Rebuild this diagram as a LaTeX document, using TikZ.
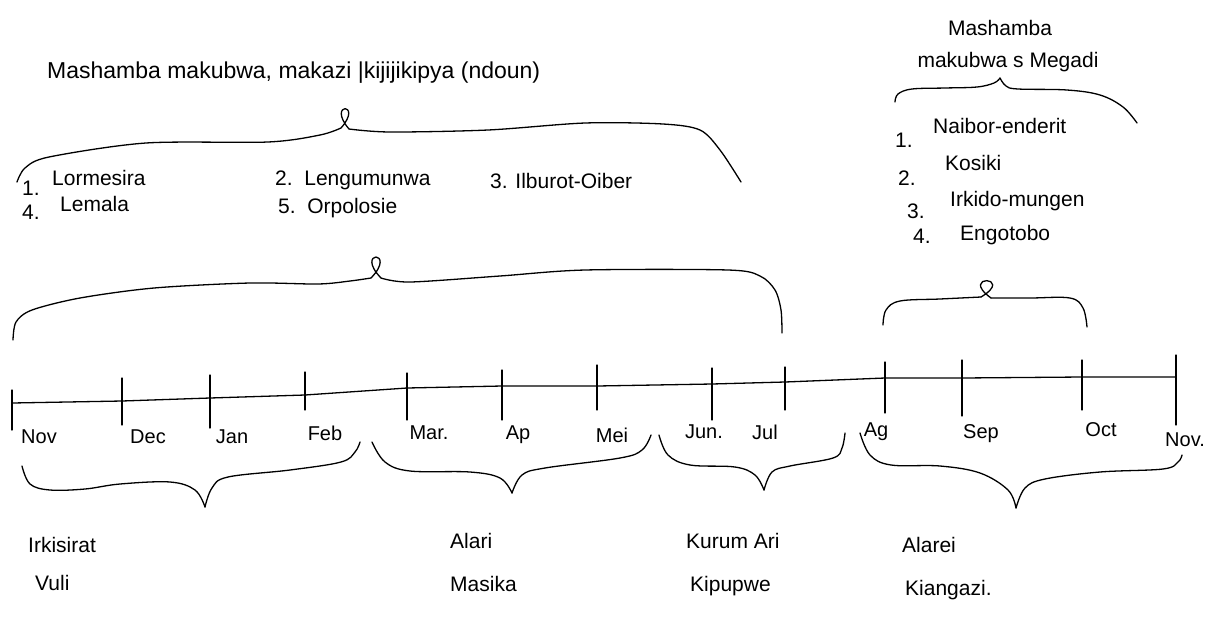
\documentclass[tikz,border=0pt]{standalone}
\usepackage{fontspec}
\setmainfont{Liberation Sans}
\begin{document}
\begin{tikzpicture}[x=1pt,y=-1pt,
  ink/.style={line width=1.3pt,line cap=round,line join=round},
  lbl/.style={inner sep=0pt,anchor=west,font=\fontsize{21}{24}\selectfont},
  mon/.style={inner sep=0pt,font=\fontsize{20}{22}\selectfont}]
\useasboundingbox (0,0) rectangle (1206,619);

% timeline points
\coordinate (t1) at (12,403);
\coordinate (t2) at (122,401);
\coordinate (t3) at (210,398);
\coordinate (t4) at (305,395);
\coordinate (t5) at (407,388);
\coordinate (t6) at (502,386);
\coordinate (t7) at (597,386);
\coordinate (t8) at (712,384);
\coordinate (t9) at (785,382);
\coordinate (t10) at (885,378);
\coordinate (t11) at (962,378);
\coordinate (t12) at (1082,377);
\coordinate (t13) at (1176,377);
\draw[ink] (t1) -- (t2) -- (t3) -- (t4) -- (t5) -- (t6) -- (t7) -- (t8) -- (t9) -- (t10) -- (t11) -- (t12) -- (t13);

% ticks
\draw[ink] (12,390) -- (12,430);
\draw[ink] (122,378) -- (122,425);
\draw[ink] (210,375) -- (210,428);
\draw[ink] (305,372) -- (305,410);
\draw[ink] (407,373) -- (407,420);
\draw[ink] (502,370) -- (502,420);
\draw[ink] (597,365) -- (597,410);
\draw[ink] (712,368) -- (712,420);
\draw[ink] (785,367) -- (785,410);
\draw[ink] (885,362) -- (885,413);
\draw[ink] (962,360) -- (962,416);
\draw[ink] (1082,360) -- (1082,410);
\draw[ink] (1176,355) -- (1176,425);

% month labels
\node[mon] (mNov) at (39,437) {Nov};
\node[mon] (mDec) at (148,437) {Dec};
\node[mon] (mJan) at (232,437) {Jan};
\node[mon] (mFeb) at (325,433) {Feb};
\node[mon] (mMar) at (429,433) {Mar.};
\node[mon] (mAp) at (518,435) {Ap};
\node[mon] (mMei) at (612,435) {Mei};
\node[mon] (mJun) at (704,432) {Jun.};
\node[mon] (mJul) at (765,432) {Jul};
\node[mon] (mAg) at (876,432) {Ag};
\node[mon] (mSep) at (981,434) {Sep};
\node[mon] (mOct) at (1101,430) {Oct};
\node[mon] (mNov2) at (1185,440) {Nov.};

% lower braces
\draw[ink] plot[smooth,tension=0.6] coordinates {(22,466) (30,484) (50,490) (85,489) (120,484) (170,482) (195,490) (205,507)};
\draw[ink] plot[smooth,tension=0.6] coordinates {(205,507) (212,488) (228,477) (290,470) (341,462) (355,452) (360,442)};
\draw[ink] plot[smooth,tension=0.6] coordinates {(372,442) (385,462) (410,471) (470,472) (500,478) (512,493)};
\draw[ink] plot[smooth,tension=0.6] coordinates {(512,493) (522,475) (545,468) (620,458) (642,450) (651,435)};
\draw[ink] plot[smooth,tension=0.6] coordinates {(659,435) (668,455) (690,465) (735,467) (755,475) (764,490)};
\draw[ink] plot[smooth,tension=0.6] coordinates {(764,490) (772,472) (790,466) (833,458) (842,448) (845,433)};
\draw[ink] plot[smooth,tension=0.6] coordinates {(860,433) (870,455) (891,465) (940,466) (980,473) (1008,490) (1016,508)};
\draw[ink] plot[smooth,tension=0.6] coordinates {(1016,508) (1025,488) (1045,479) (1100,472) (1163,469) (1178,462) (1182,455)};

% big brace over timeline
\draw[ink] plot[smooth,tension=0.5] coordinates {(13,340) (16,322) (32,310) (80,298) (154,288) (250,283) (318,284) (350,281) (371,278)};
\draw[ink] (371,278) .. controls (398,250) and (354,250) .. (381,278);
\draw[ink] plot[smooth,tension=0.5] coordinates {(381,278) (410,282) (500,276) (585,270) (728,270) (760,276) (775,290) (781,310) (782,333)};

% small brace over Ag-Oct
\draw[ink] plot[smooth,tension=0.6] coordinates {(883,325) (886,310) (900,301) (940,299) (981,297)};
\draw[ink] (981,297) .. controls (1016,276) and (958,274) .. (991,298);
\draw[ink] plot[smooth,tension=0.6] coordinates {(991,298) (1030,298) (1070,298) (1083,308) (1087,327)};

% brace under left title
\draw[ink] plot[smooth,tension=0.5] coordinates {(17,182) (25,168) (49,157) (146,143) (268,142) (320,135) (341,128)};
\draw[ink] (341,128) .. controls (364,102) and (326,102) .. (349,129);
\draw[ink] plot[smooth,tension=0.5] coordinates {(349,129) (390,132) (488,130) (585,123) (663,124) (700,130) (720,150) (741,182)};

% brace under right title
\draw[ink] plot[smooth,tension=0.6] coordinates {(895,102) (898,94) (912,89) (945,88) (977,87) (994,83) (1000,78)};
\draw[ink] plot[smooth,tension=0.6] coordinates {(1000,78) (1006,86) (1018,89) (1067,90) (1100,95) (1123,107) (1137,123)};

% titles
\node[lbl,font=\fontsize{23}{26}\selectfont] (title1) at (47,73) {Mashamba makubwa, makazi |kijijikipya (ndoun)};
\node[lbl,anchor=center] (title2a) at (1000,28) {Mashamba};
\node[lbl,anchor=center] (title2b) at (1008,62) {makubwa s Megadi};

% left list
\node[lbl] (n1) at (22,188) {1.};
\node[lbl] (w1) at (52,178) {Lormesira};
\node[lbl] (n4) at (22,212) {4.};
\node[lbl] (w4) at (60,204) {Lemala};
\node[lbl] (w2) at (275,180) {2.\ \ Lengumunwa};
\node[lbl] (w3) at (490,181) {3. Ilburot-Oiber};
\node[lbl] (w5) at (278,208) {5.\ \ Orpolosie};

% right list
\node[lbl] (r1) at (895,140) {1.};
\node[lbl] (rw1) at (933,126) {Naibor-enderit};
\node[lbl] (r2) at (898,178) {2.};
\node[lbl] (rw2) at (945,163) {Kosiki};
\node[lbl] (r3) at (907,211) {3.};
\node[lbl] (rw3) at (950,201) {Irkido-mungen};
\node[lbl] (r4) at (913,236) {4.};
\node[lbl] (rw4) at (960,235) {Engotobo};

% season names
\node[lbl] (s1a) at (28,545) {Irkisirat};
\node[lbl] (s1b) at (35,583) {Vuli};
\node[lbl] (s2a) at (450,541) {Alari};
\node[lbl] (s2b) at (450,584) {Masika};
\node[lbl] (s3a) at (686,541) {Kurum Ari};
\node[lbl] (s3b) at (690,586) {Kipupwe};
\node[lbl] (s4a) at (902,545) {Alarei};
\node[lbl] (s4b) at (905,590) {Kiangazi.};
\end{tikzpicture}
\end{document}
